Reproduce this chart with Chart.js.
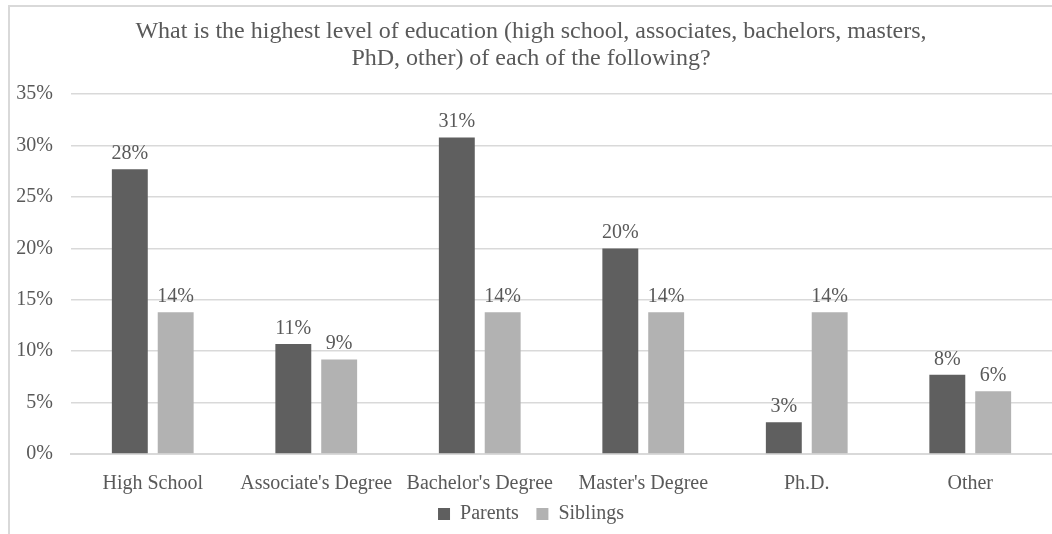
<!DOCTYPE html>
<html>
<head>
<meta charset="utf-8">
<script src="https://cdn.jsdelivr.net/npm/chart.js@4"></script>
<style>
  html, body { margin: 0; padding: 0; background: #fff; overflow: hidden; }
  #frame { position: absolute; left: 8px; top: 5px; right: 0; bottom: 0; border-top: 2px solid #d9d9d9; border-left: 2px solid #d9d9d9; }
  #wrap { position: absolute; left: 0; top: 0; width: 1052px; height: 534px; }
</style>
</head>
<body>
<div id="frame"></div>
<div id="wrap"><canvas id="chart"></canvas></div>
<script>
// ===== DATA =====
const categories = ['High School', "Associate's Degree", "Bachelor's Degree", "Master's Degree", 'Ph.D.', 'Other'];
const parents  = [27.7, 10.7, 30.8, 20.0, 3.1, 7.7];
const siblings = [13.8, 9.2, 13.8, 13.8, 13.8, 6.1];
const yTicks   = [0, 5, 10, 15, 20, 25, 30, 35];

const FONT = '"Liberation Serif", "Times New Roman", serif';
const TEXT = '#595959';

// labels above each bar
const barLabels = {
  id: 'barLabels',
  afterDatasetsDraw(chart) {
    const ctx = chart.ctx;
    ctx.save();
    ctx.font = '20px ' + FONT;
    ctx.fillStyle = TEXT;
    ctx.textAlign = 'center';
    ctx.textBaseline = 'alphabetic';
    chart.data.datasets.forEach((ds, i) => {
      chart.getDatasetMeta(i).data.forEach((bar, j) => {
        ctx.fillText(Math.round(ds.data[j]) + '%', bar.x, bar.y - 10);
      });
    });
    ctx.restore();
  }
};

new Chart(document.getElementById('chart'), {
  type: 'bar',
  data: {
    labels: categories,
    datasets: [
      { label: 'Parents',  data: parents,  backgroundColor: '#5f5f5f' },
      { label: 'Siblings', data: siblings, backgroundColor: '#b2b2b2' }
    ]
  },
  options: {
    responsive: true,
    maintainAspectRatio: false,
    animation: false,
    datasets: { bar: { categoryPercentage: 0.561, barPercentage: 0.783 } },
    // left padding nudges title/legend right; y axis width makes up for it
    layout: { padding: { left: 10, right: 0, top: 0, bottom: 0 } },
    plugins: {
      tooltip: { enabled: false },
      title: {
        display: true,
        text: ['What is the highest level of education (high school, associates, bachelors, masters,', 'PhD, other) of each of the following?'],
        color: TEXT,
        font: { family: FONT, size: 24, weight: 'normal', lineHeight: 1.13 },
        padding: { top: 18, bottom: 22 }
      },
      legend: {
        position: 'bottom',
        labels: {
          color: TEXT,
          font: { family: FONT, size: 20 },
          boxWidth: 12, boxHeight: 12, padding: 2.5,
          // a few trailing spaces keep the two entries apart (padding is kept small for height)
          generateLabels(chart) {
            const items = Chart.defaults.plugins.legend.labels.generateLabels(chart);
            items[0].text += '   ';
            return items;
          }
        }
      }
    },
    scales: {
      x: {
        afterFit(axis) { axis.height = 47.5; },
        grid: { display: false, drawTicks: false },
        border: { color: '#d9d9d9', width: 2 },
        ticks: { color: TEXT, font: { family: FONT, size: 20 }, padding: 18, maxRotation: 0, autoSkip: false }
      },
      y: {
        min: 0, max: 35,
        afterFit(axis) { axis.width = 61; },
        afterBuildTicks(axis) { axis.ticks = yTicks.map(v => ({ value: v })); },
        grid: { color: '#d9d9d9', lineWidth: 1.5, drawTicks: false },
        border: { display: false },
        ticks: { color: TEXT, font: { family: FONT, size: 20 }, padding: 18, callback: v => v + '%' }
      }
    }
  },
  plugins: [barLabels]
});
</script>
</body>
</html>
